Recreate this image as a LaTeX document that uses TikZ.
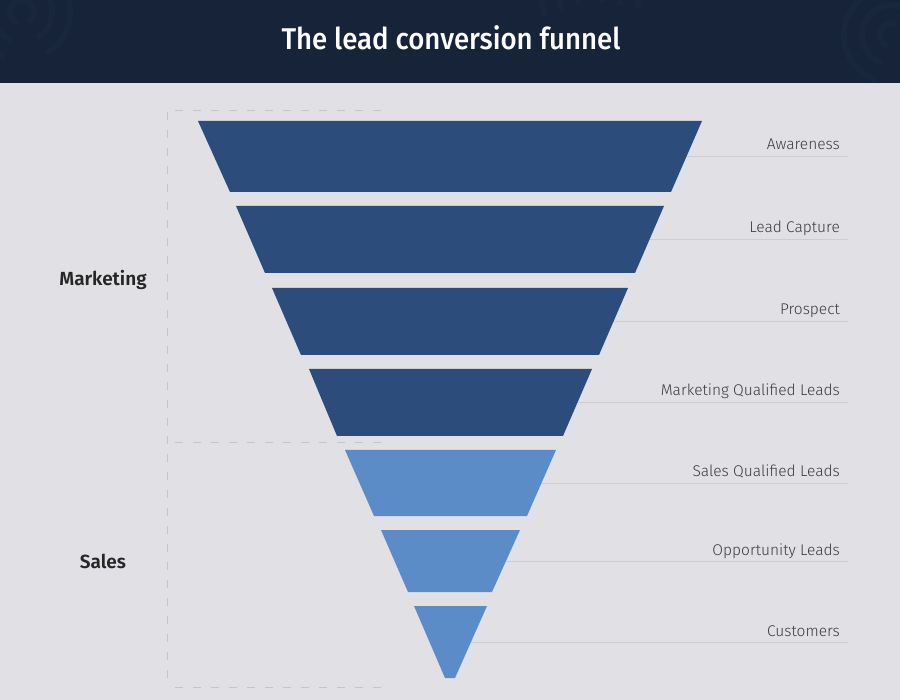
\documentclass[tikz,border=0pt]{standalone}
\usepackage{fontspec}
\setmainfont{Fira Sans}
\newfontfamily\lightfont{Fira Sans Light}
\newfontfamily\semifont{Fira Sans SemiBold}
\newfontfamily\medfont{Fira Sans Medium}
\definecolor{headbg}{HTML}{162339}
\definecolor{headring}{HTML}{19273E}
\definecolor{pagebg}{HTML}{E0E0E5}
\definecolor{darkband}{HTML}{2C4C7C}
\definecolor{lightband}{HTML}{5B8CC8}
\definecolor{rule}{HTML}{CDCDD2}
\definecolor{dash}{HTML}{C6C6CA}
\definecolor{labeltext}{HTML}{3C3C3C}
\begin{document}
\begin{tikzpicture}[x=1pt,y=-1pt,
  darkstage/.style={fill=darkband},
  lightstage/.style={fill=lightband},
  stagelabel/.style={anchor=base east,inner sep=0pt,text=labeltext,font=\lightfont\fontsize{15.5}{18}\selectfont},
  underrule/.style={draw=rule,line width=0.9pt},
  groupname/.style={inner sep=0pt,text=black!85,font=\semifont\fontsize{19}{22}\selectfont},
  bracket/.style={draw=dash,line width=1pt,dash pattern=on 8pt off 10pt},
  ring/.style={draw=headring,line width=6pt}]
\useasboundingbox (0,0) rectangle (900,700);
\fill[pagebg] (0,0) rectangle (900,700);
\fill[headbg] (0,0) rectangle (900,83);
% faint rings in header
\begin{scope}
\clip (0,0) rectangle (900,83);
\foreach \r in {12,30,48} \draw[ring] (22,12) ++(60:\r) arc (60:-250:\r);
\foreach \r in {12,30,48} \draw[ring] (590,0) ++(10:\r) arc (10:-200:\r);
\foreach \r in {12,30,48} \draw[ring] (262,100) ++(0:\r) arc (0:200:\r);
\foreach \r in {12,30,48} \draw[ring] (892,35) ++(-60:\r) arc (-60:-250:\r);
\end{scope}
\node[text=white,inner sep=0pt] (title) at (451,38) {\scalebox{0.92}[1]{\medfont\fontsize{30}{33}\selectfont The lead conversion funnel}};
% underlines (behind funnel)
\foreach \y in {156,239,321,402,483,561,642} \draw[underrule] (450,\y) -- (848,\y);
% funnel bands
\fill[darkstage] (198,121) -- (702,121) -- (671,192) -- (230,192) -- cycle;
\fill[darkstage] (236,206) -- (664,206) -- (635,273) -- (265,273) -- cycle;
\fill[darkstage] (272,288) -- (628,288) -- (599,355) -- (301,355) -- cycle;
\fill[darkstage] (309,369) -- (592,369) -- (563,436) -- (337,436) -- cycle;
\fill[lightstage] (345,450) -- (556,450) -- (527,516) -- (374,516) -- cycle;
\fill[lightstage] (381,530) -- (520,530) -- (492,592) -- (408,592) -- cycle;
\fill[lightstage] (414,606) -- (487,606) -- (455,678) -- (445,678) -- cycle;
% labels
\node[stagelabel] (l1) at (840,150) {Awareness};
\node[stagelabel] (l2) at (840,233) {Lead Capture};
\node[stagelabel] (l3) at (840,315) {Prospect};
\node[stagelabel] (l4) at (840,396) {Marketing Qualified Leads};
\node[stagelabel] (l5) at (840,477) {Sales Qualified Leads};
\node[stagelabel] (l6) at (840,555) {Opportunity Leads};
\node[stagelabel] (l7) at (840,636) {Customers};
% group bracket
\draw[bracket] (167,112) -- (167,686);
\draw[bracket] (175,111) -- (384,111);
\draw[bracket] (175,443) -- (384,443);
\draw[bracket] (175,687) -- (384,687);
\node[groupname] (mkt) at (103,280) {Marketing};
\node[groupname] (sales) at (103,561) {Sales};
\end{tikzpicture}
\end{document}
